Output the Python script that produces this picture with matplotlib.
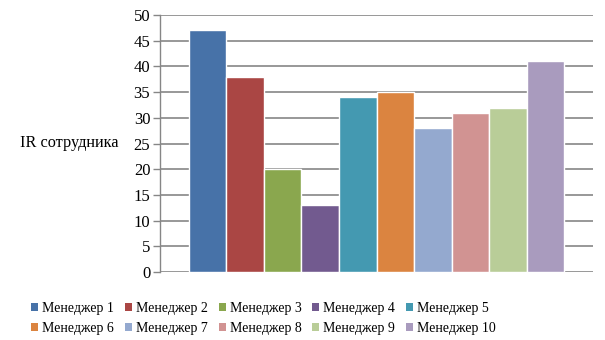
import matplotlib.pyplot as plt
from matplotlib.patches import Patch

plt.rcParams['font.family'] = 'serif'
plt.rcParams['font.serif'] = ['Liberation Serif', 'DejaVu Serif']

# данные
managers = ['Менеджер 1', 'Менеджер 2', 'Менеджер 3', 'Менеджер 4', 'Менеджер 5',
            'Менеджер 6', 'Менеджер 7', 'Менеджер 8', 'Менеджер 9', 'Менеджер 10']
ir_values = [47, 38, 20, 13, 34, 35, 28, 31, 32, 41]
colors = ['#4772a8', '#aa4644', '#8aa74e', '#725a8f', '#4499b1',
          '#db8440', '#94a9cf', '#d19392', '#b9cd98', '#a99bbe']

fig = plt.figure(figsize=(6.05, 3.4), dpi=100)
ax = fig.add_axes([160 / 605, 1 - 272 / 340, 433 / 605, 257 / 340])

x = list(range(len(ir_values)))
ax.bar(x, ir_values, width=1.0, color=colors, edgecolor='white', linewidth=1.0, zorder=3)

ax.set_xlim(-1.27, len(ir_values) - 1 + 1.27)
ax.set_ylim(0, 50)
ax.set_yticks(range(0, 51, 5))
ax.set_xticks([])
ax.yaxis.grid(True, color='#868686', linewidth=1.2, zorder=0)
ax.set_axisbelow(True)

for side in ['top', 'right', 'bottom']:
    ax.spines[side].set_visible(False)
ax.spines['left'].set_color('#868686')
ax.spines['left'].set_linewidth(1.0)
ax.tick_params(axis='y', length=5, color='#868686', width=1.0, labelsize=12, pad=2)

fig.text(20 / 605, 1 - 143 / 340, 'IR сотрудника', fontsize=11.7, va='center', ha='left')

# легенда построчно: 5 колонок, 2 строки
order = [0, 5, 1, 6, 2, 7, 3, 8, 4, 9]
handles = [Patch(facecolor=colors[i], edgecolor='none') for i in order]
labels = [managers[i] for i in order]
fig.legend(handles, labels, loc='upper left', bbox_to_anchor=(31 / 605, 1 - 302 / 340), ncol=5,
           frameon=False, fontsize=10, handlelength=0.5, handleheight=0.5,
           handletextpad=0.3, columnspacing=0.78, labelspacing=0.5,
           borderpad=0, borderaxespad=0)

fig.savefig('out.png', dpi=100)
